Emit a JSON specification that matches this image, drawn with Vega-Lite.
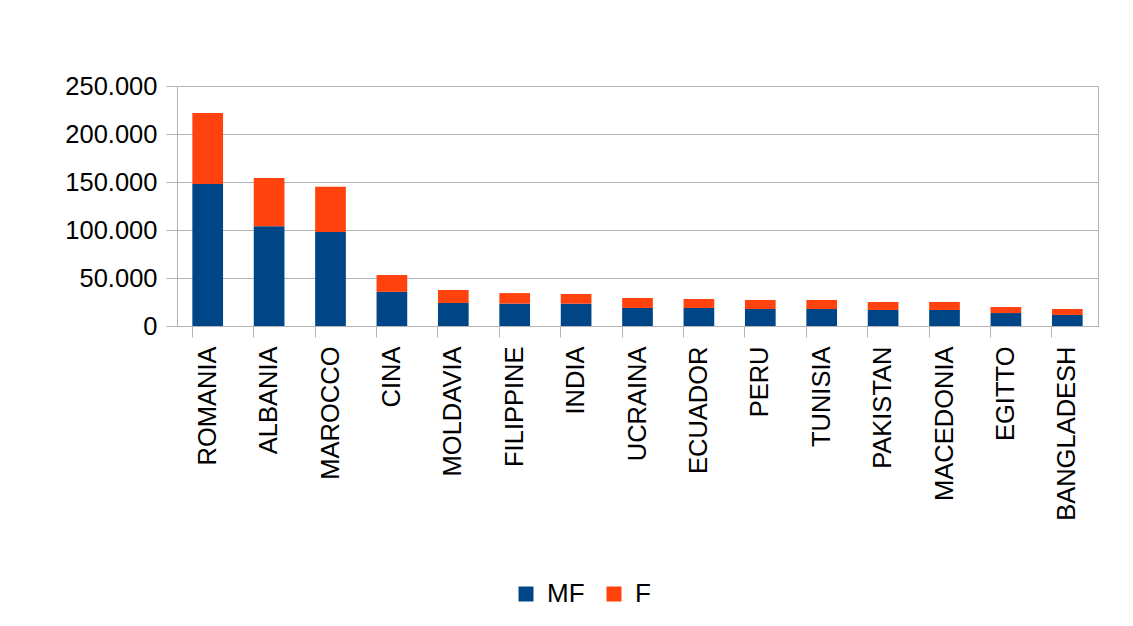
{
  "$schema": "https://vega.github.io/schema/vega-lite/v6.json",
  "width": 921,
  "height": 240,
  "autosize": {"type": "none"},
  "padding": {"left": 177, "top": 86, "right": 35, "bottom": 300},
  "background": "white",
  "data": {
    "values": [
      {"paese": "ROMANIA", "serie": "MF", "ord": 1, "valore": 148000},
      {"paese": "ROMANIA", "serie": "F", "ord": 2, "valore": 74000},
      {"paese": "ALBANIA", "serie": "MF", "ord": 1, "valore": 104000},
      {"paese": "ALBANIA", "serie": "F", "ord": 2, "valore": 50200},
      {"paese": "MAROCCO", "serie": "MF", "ord": 1, "valore": 98000},
      {"paese": "MAROCCO", "serie": "F", "ord": 2, "valore": 47000},
      {"paese": "CINA", "serie": "MF", "ord": 1, "valore": 35600},
      {"paese": "CINA", "serie": "F", "ord": 2, "valore": 17500},
      {"paese": "MOLDAVIA", "serie": "MF", "ord": 1, "valore": 24000},
      {"paese": "MOLDAVIA", "serie": "F", "ord": 2, "valore": 13500},
      {"paese": "FILIPPINE", "serie": "MF", "ord": 1, "valore": 23300},
      {"paese": "FILIPPINE", "serie": "F", "ord": 2, "valore": 11000},
      {"paese": "INDIA", "serie": "MF", "ord": 1, "valore": 23200},
      {"paese": "INDIA", "serie": "F", "ord": 2, "valore": 10100},
      {"paese": "UCRAINA", "serie": "MF", "ord": 1, "valore": 18800},
      {"paese": "UCRAINA", "serie": "F", "ord": 2, "valore": 10400},
      {"paese": "ECUADOR", "serie": "MF", "ord": 1, "valore": 18800},
      {"paese": "ECUADOR", "serie": "F", "ord": 2, "valore": 9300},
      {"paese": "PERU", "serie": "MF", "ord": 1, "valore": 17700},
      {"paese": "PERU", "serie": "F", "ord": 2, "valore": 9400},
      {"paese": "TUNISIA", "serie": "MF", "ord": 1, "valore": 17700},
      {"paese": "TUNISIA", "serie": "F", "ord": 2, "valore": 9400},
      {"paese": "PAKISTAN", "serie": "MF", "ord": 1, "valore": 16700},
      {"paese": "PAKISTAN", "serie": "F", "ord": 2, "valore": 8300},
      {"paese": "MACEDONIA", "serie": "MF", "ord": 1, "valore": 16700},
      {"paese": "MACEDONIA", "serie": "F", "ord": 2, "valore": 8300},
      {"paese": "EGITTO", "serie": "MF", "ord": 1, "valore": 13500},
      {"paese": "EGITTO", "serie": "F", "ord": 2, "valore": 6300},
      {"paese": "BANGLADESH", "serie": "MF", "ord": 1, "valore": 11500},
      {"paese": "BANGLADESH", "serie": "F", "ord": 2, "valore": 6200}
    ]
  },
  "mark": {"type": "bar"},
  "encoding": {
    "x": {
      "field": "paese",
      "type": "nominal",
      "sort": null,
      "scale": {"paddingInner": 0.5, "paddingOuter": 0.25},
      "axis": {
        "title": null,
        "labelAngle": 270,
        "labelAlign": "right",
        "labelBaseline": "middle",
        "labelFontSize": 25.5,
        "labelFont": "Liberation Sans",
        "labelColor": "black",
        "labelPadding": 9,
        "tickSize": 11,
        "tickColor": "#b3b3b3",
        "domainColor": "#b3b3b3",
        "bandPosition": 0,
        "grid": false
      }
    },
    "y": {
      "field": "valore",
      "type": "quantitative",
      "stack": "zero",
      "scale": {"domain": [0, 250000], "nice": false},
      "axis": {
        "title": null,
        "values": [0, 50000, 100000, 150000, 200000, 250000],
        "labelExpr": "replace(format(datum.value, ','), regexp(',', 'g'), '.')",
        "labelFontSize": 25.5,
        "labelFont": "Liberation Sans",
        "labelColor": "black",
        "labelPadding": 9,
        "tickSize": 11,
        "tickColor": "#b3b3b3",
        "domainColor": "#b3b3b3",
        "gridColor": "#b3b3b3",
        "grid": true
      }
    },
    "color": {
      "field": "serie",
      "type": "nominal",
      "scale": {"domain": ["MF", "F"], "range": ["#004586", "#ff420e"]},
      "legend": {
        "title": null,
        "orient": "none",
        "legendX": 336,
        "legendY": 495,
        "direction": "horizontal",
        "symbolType": "square",
        "symbolSize": 225,
        "symbolStrokeWidth": 0,
        "labelFontSize": 26,
        "labelFont": "Liberation Sans",
        "labelColor": "black",
        "labelOffset": 8,
        "columnPadding": 16
      }
    },
    "order": {"field": "ord", "type": "quantitative"}
  },
  "config": {
    "view": {"stroke": "#b3b3b3"},
    "axis": {"gridWidth": 1, "domainWidth": 1}
  }
}
